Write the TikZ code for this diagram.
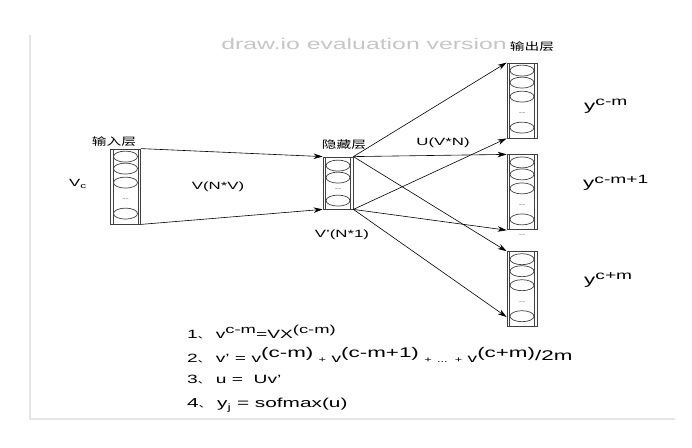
\documentclass[tikz,border=0pt]{standalone}
\usepackage{fontspec}
\setmainfont{Liberation Sans}[FakeStretch=1.6]
\newfontfamily\cjk{Noto Sans CJK SC}[FakeStretch=1.4]
\newcommand\dun{{\cjk\fontsize{9}{10}\selectfont 、}}
\newcommand\hisup[2]{\raisebox{4.5pt}{\fontsize{#1}{#1}\selectfont #2}}
\newcommand\lowplus{{\fontsize{8}{9}\selectfont +}}
\usetikzlibrary{arrows.meta,positioning}

\begin{document}
\begin{tikzpicture}[x=1pt, y=-1pt, layer/.style={rectangle, draw=black!75, line width=0.8pt, minimum width=30pt, inner sep=0pt}, unit/.style={draw=black!75, line width=0.7pt}, dots/.style={font=\fontsize{6}{7}\selectfont, text=black!60, inner sep=0pt}, arr/.style={-{Stealth[length=9pt,width=5.5pt]}, line width=0.6pt}, lbl/.style={font=\fontsize{10.5}{12}\selectfont, inner sep=1pt}, cn/.style={font=\cjk\fontsize{10.5}{12}\selectfont, inner sep=1pt}, ylbl/.style={font=\fontsize{14}{16}\selectfont, inner sep=0pt, anchor=west}, fml/.style={font=\fontsize{12}{14}\selectfont, inner sep=0pt, anchor=west}]
  \useasboundingbox (0,0) rectangle (692,447);
  % page edge of the screenshot
  \draw[gray!20, line width=1.5pt] (30,35) -- (30,419) -- (675,419);
  \node[font=\fontsize{15.5}{17}\selectfont, text=gray!45] (mark) at (364,44) {draw.io evaluation version};

  % layers
  \node[layer, minimum height=75pt] (inl) at (125.5,186.5) {};
  \node[layer, minimum height=52pt] (hid) at (338,183) {};
  \node[layer, minimum height=75pt] (outa) at (522,100.5) {};
  \node[layer, minimum height=75pt, below=16pt of outa] (outb) {};
  \node[layer, minimum height=75pt, below=21pt of outb] (outc) {};
  \foreach \n in {inl,hid,outa,outb,outc} {
    \draw[unit] ([xshift=3pt]\n.north west) -- ([xshift=3pt]\n.south west);
    \draw[unit] ([xshift=-3pt]\n.north east) -- ([xshift=-3pt]\n.south east);
  }
  \foreach \n in {inl,outa,outb,outc} {
    \foreach \dy in {8,20,34,65}
      \draw[unit] (\n.north) ++(0,\dy) ellipse (12pt and 5.5pt);
    \node[dots] (\n-dots) at ([yshift=-51pt]\n.north) {-{}-};
  }
  \foreach \dy in {9,21,44}
    \draw[unit] (hid.north) ++(0,\dy) ellipse (12pt and 5.5pt);
  \node[dots] (hid-dots) at ([yshift=-33pt]hid.north) {-{}-};
  \node[dots] (gap-dots) at (522,236) {-{}-};

  % weights
  \draw[arr] (inl.north east) -- (hid.north west);
  \draw[arr] (inl.south east) -- (hid.south west);
  \draw[arr] (hid.north east) -- (outa.north west);
  \draw[arr] (hid.north east) -- (outb.north west);
  \draw[arr] (hid.north east) -- (outc.north west);
  \draw[arr] (hid.south east) -- (outa.south west);
  \draw[arr] (hid.south east) -- (outb.south west);
  \draw[arr] (hid.south east) -- ([yshift=10pt]outc.south west);

  % labels
  \node[cn] (inl-lbl) at (114,142) {输入层};
  \node[cn] (hid-lbl) at (344,145) {隐藏层};
  \node[cn] (out-lbl) at (532,47) {输出层};
  \node[lbl] (vc) at (78,184) {V\textsubscript{c}};
  \node[lbl] (wv) at (218,187) {V(N*V)};
  \node[lbl] (wu) at (443,143) {U(V*N)};
  \node[lbl] (hv) at (342,235) {V'(N*1)};
  \node[ylbl] (ya) at (584,106) {y\hisup{12}{c-m}};
  \node[ylbl] (yb) at (583,183) {y\hisup{12}{c-m+1}};
  \node[ylbl] (yc) at (584,280) {y\hisup{12}{c+m}};

  % formulas
  \node[fml] (f1) at (187,332) {1\dun\ v\hisup{11.5}{c-m}=VX\hisup{11.5}{(c-m)}};
  \node[fml] (f2) at (187,355) {2\dun\ v' = v\hisup{14}{(c-m)} \lowplus\ v\hisup{14}{(c-m+1)} \lowplus\ {\fontsize{8}{9}\selectfont ...} \lowplus\ v\hisup{14}{(c+m)}\raisebox{2pt}{\fontsize{14}{15}\selectfont /2m}};
  \node[fml] (f3) at (187,380) {3\dun\ u =\ \ Uv'};
  \node[fml, font=\fontsize{13}{15}\selectfont] (f4) at (187,405) {4\dun\ y\textsubscript{j} = sofmax(u)};
\end{tikzpicture}
\end{document}
